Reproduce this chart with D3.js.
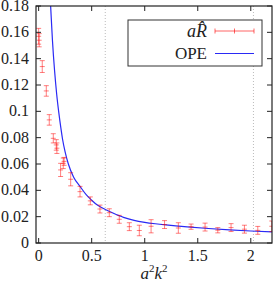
<!DOCTYPE html>
<html>
<head>
<meta charset="utf-8">
<script src="https://cdn.jsdelivr.net/npm/d3@7/dist/d3.min.js"></script>
<style>
html,body{margin:0;padding:0;background:#fff;}
svg{display:block;}
text{font-family:"Liberation Serif","Times New Roman",serif;fill:#222;}
</style>
</head>
<body>
<svg id="chart" width="274" height="282"></svg>
<script>
// Data
const dataX   = [0.000, 0.005, 0.034, 0.072, 0.100, 0.138, 0.166, 0.172, 0.207, 0.232, 0.240, 0.302, 0.390, 0.487, 0.578, 0.666, 0.760, 0.855, 0.949, 1.060, 1.187, 1.317, 1.437, 1.569, 1.689, 1.814, 1.940, 2.066, 2.198];
const dataY   = [0.157, 0.154, 0.134, 0.1155, 0.0935, 0.0795, 0.0745, 0.0720, 0.0555, 0.0605, 0.0620, 0.0484, 0.0390, 0.0320, 0.0258, 0.0230, 0.0180, 0.0124, 0.0095, 0.0127, 0.0140, 0.0114, 0.0124, 0.0121, 0.0097, 0.0117, 0.0105, 0.0096, 0.0127];
const dataErr = [0.006, 0.005, 0.0045, 0.004, 0.004, 0.0035, 0.004, 0.004, 0.005, 0.004, 0.003, 0.005, 0.004, 0.003, 0.003, 0.003, 0.003, 0.003, 0.004, 0.005, 0.003, 0.004, 0.002, 0.003, 0.002, 0.003, 0.003, 0.003, 0.004];

const opeX = [0.100, 0.113, 0.130, 0.150, 0.170, 0.190, 0.210, 0.225, 0.250, 0.280, 0.330, 0.390, 0.450, 0.500, 0.550, 0.628, 0.700, 0.800, 0.900, 1.000, 1.100, 1.200, 1.400, 1.600, 1.800, 2.000, 2.200];
const opeY = [0.200, 0.180, 0.154, 0.131, 0.113, 0.099, 0.087, 0.079, 0.069, 0.060, 0.050, 0.043, 0.0365, 0.0325, 0.0290, 0.0255, 0.0228, 0.0195, 0.0172, 0.0157, 0.0146, 0.0137, 0.0122, 0.0110, 0.0100, 0.0091, 0.0084];

const xTicks = [0, 0.5, 1, 1.5, 2];
const xTickLabels = ["0", "0.5", "1", "1.5", "2"];
const yTicks = [0, 0.02, 0.04, 0.06, 0.08, 0.1, 0.12, 0.14, 0.16, 0.18];
const yTickLabels = ["0", "0.02", "0.04", "0.06", "0.08", "0.1", "0.12", "0.14", "0.16", "0.18"];
const refLines = [0.628, 2.025];
const legendLabels = ["OPE"];

const svg = d3.select("#chart");
const L = 36, R = 272, T = 6, B = 243;
const x = d3.scaleLinear().domain([-0.025, 2.2]).range([L, R]);
const y = d3.scaleLinear().domain([0, 0.18]).range([B, T]);

svg.append("defs").append("clipPath").attr("id", "clip")
  .append("rect").attr("x", L).attr("y", T).attr("width", R - L).attr("height", B - T);

// reference dotted lines
svg.selectAll("line.ref").data(refLines).enter().append("line")
  .attr("x1", d => x(d)).attr("x2", d => x(d)).attr("y1", T).attr("y2", B)
  .attr("stroke", "#aaa").attr("stroke-width", 0.8).attr("stroke-dasharray", "1,2");

// OPE curve
const line = d3.line().x(d => x(d[0])).y(d => y(d[1])).curve(d3.curveMonotoneX);
svg.append("path").datum(opeX.map((v, i) => [v, opeY[i]]))
  .attr("clip-path", "url(#clip)")
  .attr("d", line).attr("fill", "none").attr("stroke", "#2a2af5").attr("stroke-width", 1.2);

// error bars
const pts = dataX.map((v, i) => ({x: v, y: dataY[i], e: dataErr[i]}));
const eb = svg.append("g").attr("clip-path", "url(#clip)")
  .attr("stroke", "#ff0000").attr("stroke-opacity", 0.5).attr("stroke-width", 1).attr("fill", "none");
const g = eb.selectAll("g").data(pts).enter().append("g");
g.append("line").attr("x1", d => x(d.x)).attr("x2", d => x(d.x)).attr("y1", d => y(d.y - d.e)).attr("y2", d => y(d.y + d.e));
g.append("line").attr("x1", d => x(d.x) - 2.5).attr("x2", d => x(d.x) + 2.5).attr("y1", d => y(d.y - d.e)).attr("y2", d => y(d.y - d.e));
g.append("line").attr("x1", d => x(d.x) - 2.5).attr("x2", d => x(d.x) + 2.5).attr("y1", d => y(d.y + d.e)).attr("y2", d => y(d.y + d.e));
g.append("line").attr("x1", d => x(d.x) - 2.5).attr("x2", d => x(d.x) + 2.5).attr("y1", d => y(d.y)).attr("y2", d => y(d.y));

// axes: ticks inward on all sides
const tickLen = 5;
const axG = svg.append("g").attr("stroke", "#222").attr("stroke-width", 1);
xTicks.forEach(t => {
  axG.append("line").attr("x1", x(t)).attr("x2", x(t)).attr("y1", B).attr("y2", B - tickLen);
  axG.append("line").attr("x1", x(t)).attr("x2", x(t)).attr("y1", T).attr("y2", T + tickLen);
});
yTicks.forEach(t => {
  axG.append("line").attr("x1", L).attr("x2", L + tickLen).attr("y1", y(t)).attr("y2", y(t));
  axG.append("line").attr("x1", R).attr("x2", R - tickLen).attr("y1", y(t)).attr("y2", y(t));
});
svg.append("rect").attr("x", L).attr("y", T).attr("width", R - L).attr("height", B - T)
  .attr("fill", "none").attr("stroke", "#222").attr("stroke-width", 1.2);

svg.selectAll("text.xt").data(xTicks).enter().append("text")
  .attr("x", d => x(d)).attr("y", 261).attr("text-anchor", "middle")
  .attr("font-size", 16).text((d, i) => xTickLabels[i]);
svg.selectAll("text.yt").data(yTicks).enter().append("text")
  .attr("x", 29).attr("y", d => y(d) + 5).attr("text-anchor", "end")
  .attr("font-size", 16).text((d, i) => yTickLabels[i]);

// x axis label a^2 k^2
const xl = svg.append("text").attr("x", 154).attr("y", 279).attr("text-anchor", "middle").attr("font-size", 17);
xl.append("tspan").attr("font-style", "italic").text("a");
xl.append("tspan").attr("font-size", 11).attr("dy", -7).text("2");
xl.append("tspan").attr("font-style", "italic").attr("dy", 7).text("k");
xl.append("tspan").attr("font-size", 11).attr("dy", -7).text("2");

// legend
svg.append("rect").attr("x", 128).attr("y", 20).attr("width", 134).attr("height", 46)
  .attr("fill", "#fff").attr("stroke", "#333").attr("stroke-width", 1);
const ly1 = 31, ly2 = 53.5, lx1 = 215, lx2 = 254;
const lg = svg.append("g").attr("stroke", "#ff0000").attr("stroke-opacity", 0.6).attr("stroke-width", 1);
lg.append("line").attr("x1", lx1).attr("x2", lx2).attr("y1", ly1).attr("y2", ly1);
[lx1, (lx1 + lx2) / 2, lx2].forEach(v => lg.append("line").attr("x1", v).attr("x2", v).attr("y1", ly1 - 2.5).attr("y2", ly1 + 2.5));
svg.append("line").attr("x1", lx1).attr("x2", lx2).attr("y1", ly2).attr("y2", ly2)
  .attr("stroke", "#2a2af5").attr("stroke-width", 1.2);
const t1 = svg.append("text").attr("x", 207).attr("y", 37).attr("text-anchor", "end").attr("font-size", 18).attr("font-style", "italic");
t1.append("tspan").text("a");
t1.append("tspan").text("R\u0302");
svg.append("text").attr("x", 207).attr("y", 58.5).attr("text-anchor", "end").attr("font-size", 17).text(legendLabels[0]);
</script>
</body>
</html>
